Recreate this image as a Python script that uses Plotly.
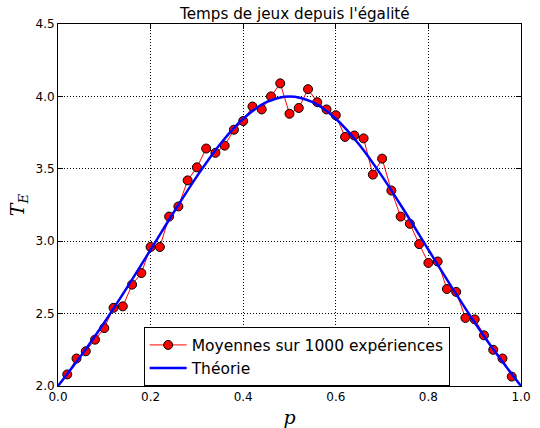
import plotly.graph_objects as go

p_exp = [0.02, 0.04, 0.06, 0.08, 0.10, 0.12, 0.14, 0.16, 0.18, 0.20,
         0.22, 0.24, 0.26, 0.28, 0.30, 0.32, 0.34, 0.36, 0.38, 0.40,
         0.42, 0.44, 0.46, 0.48, 0.50, 0.52, 0.54, 0.56, 0.58, 0.60,
         0.62, 0.64, 0.66, 0.68, 0.70, 0.72, 0.74, 0.76, 0.78, 0.80,
         0.82, 0.84, 0.86, 0.88, 0.90, 0.92, 0.94, 0.96, 0.98]
moyennes = [2.08, 2.19, 2.24, 2.32, 2.40, 2.54, 2.55, 2.70, 2.78, 2.96,
            2.96, 3.17, 3.24, 3.42, 3.51, 3.64, 3.61, 3.66, 3.77, 3.83,
            3.93, 3.91, 4.00, 4.09, 3.88, 3.92, 4.05, 3.96, 3.91, 3.87,
            3.72, 3.73, 3.71, 3.46, 3.57, 3.35, 3.17, 3.12, 2.98, 2.85,
            2.86, 2.67, 2.65, 2.47, 2.46, 2.35, 2.25, 2.19, 2.065]

p_theo = [0.0, 0.05, 0.10, 0.15, 0.20, 0.25, 0.30, 0.35, 0.40, 0.45, 0.50,
          0.55, 0.60, 0.65, 0.70, 0.75, 0.80, 0.85, 0.90, 0.95, 1.0]
theorie = [2.000, 2.210, 2.439, 2.685, 2.941, 3.200, 3.448, 3.670, 3.846, 3.960, 4.000,
           3.960, 3.846, 3.670, 3.448, 3.200, 2.941, 2.685, 2.439, 2.210, 2.000]

x_ticks = [0.0, 0.2, 0.4, 0.6, 0.8, 1.0]
y_ticks = [2.0, 2.5, 3.0, 3.5, 4.0, 4.5]

fig = go.Figure()
fig.add_trace(go.Scatter(
    x=p_exp, y=moyennes, mode="lines+markers",
    name="Moyennes sur 1000 expériences",
    line=dict(color="red", width=1),
    marker=dict(color="red", size=9, line=dict(color="black", width=1)),
    cliponaxis=False,
))
fig.add_trace(go.Scatter(
    x=p_theo, y=theorie, mode="lines", name="Théorie",
    line=dict(color="blue", width=2.5, shape="spline"),
))

axis_common = dict(
    showline=True, linecolor="black", linewidth=1, mirror="allticks",
    ticks="inside", ticklen=5, tickcolor="black",
    showgrid=True, gridcolor="black", griddash="1px,2px", gridwidth=1,
    zeroline=False, tickformat=".1f", automargin=False,
    tickfont=dict(family="DejaVu Sans", size=12, color="black"),
)

fig.update_layout(
    width=540, height=428,
    margin=dict(l=58, r=19, t=24, b=42),
    paper_bgcolor="white", plot_bgcolor="white",
    title=dict(text="Temps de jeux depuis l'égalité", x=0.546, xanchor="center",
               y=0.967, yanchor="middle",
               font=dict(family="DejaVu Sans", size=15.2, color="black")),
    xaxis=dict(range=[0, 1], tickvals=x_ticks,
               title=dict(text="<i>p</i>", standoff=7,
                          font=dict(family="DejaVu Serif", size=19, color="black")),
               **axis_common),
    yaxis=dict(range=[2.0, 4.5], tickvals=y_ticks,
               title=dict(text="<i>T</i><sub><i>E</i></sub>", standoff=5,
                          font=dict(family="DejaVu Serif", size=19, color="black")),
               **axis_common),
    legend=dict(x=0.185, y=0.162, xanchor="left", yanchor="top",
                bgcolor="white", bordercolor="black", borderwidth=1,
                itemwidth=37,
                font=dict(family="DejaVu Sans", size=15.5, color="black")),
    showlegend=True,
)

fig.write_html("out.html")
